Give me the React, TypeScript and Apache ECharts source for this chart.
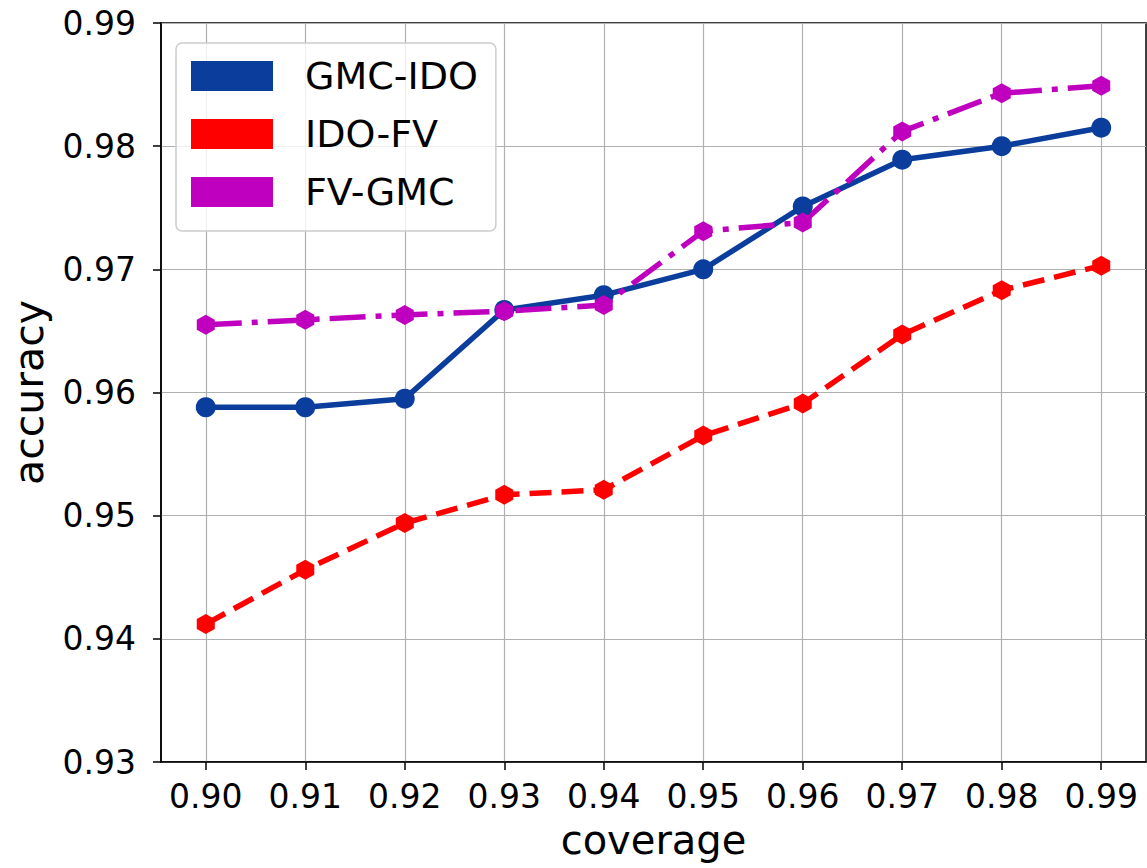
import React, { useEffect, useRef } from "react";
import * as echarts from "echarts";

const coverage = [0.9, 0.91, 0.92, 0.93, 0.94, 0.95, 0.96, 0.97, 0.98, 0.99];
const gmcIdo = [0.9588, 0.9588, 0.9595, 0.9667, 0.9679, 0.97, 0.9751, 0.9789, 0.98, 0.9815];
const idoFv = [0.9412, 0.9456, 0.9494, 0.9517, 0.9521, 0.9565, 0.9591, 0.9647, 0.9683, 0.9703];
const fvGmc = [0.9655, 0.9659, 0.9663, 0.9666, 0.9671, 0.9731, 0.9738, 0.9812, 0.9843, 0.9849];
const xTicks = [0.9, 0.91, 0.92, 0.93, 0.94, 0.95, 0.96, 0.97, 0.98, 0.99];

const HEX = "path://M0,-1 L0.866,-0.5 L0.866,0.5 L0,1 L-0.866,0.5 L-0.866,-0.5 Z";
const FONT = "DejaVu Sans";

export default function App() {
  const ref = useRef<HTMLDivElement>(null);
  useEffect(() => {
    if (!ref.current) return;
    const chart = echarts.init(ref.current, undefined, { renderer: "svg" });
    const pair = (arr: number[]) => coverage.map((c, i) => [c, arr[i]]);
    chart.setOption({
      animation: false,
      backgroundColor: "#ffffff",
      textStyle: { fontFamily: FONT },
      grid: {
        left: 156,
        right: 1,
        top: 23,
        bottom: 106,
        show: true,
        borderColor: "#000",
        borderWidth: 1.5,
        containLabel: false,
      },
      legend: {
        left: 176,
        top: 43,
        orient: "vertical",
        icon: "rect",
        itemWidth: 82,
        itemHeight: 30,
        itemGap: 20,
        padding: [14, 18, 20, 15],
        backgroundColor: "rgba(255,255,255,0.8)",
        borderColor: "#cccccc",
        borderWidth: 1.5,
        borderRadius: 6,
        textStyle: {
          fontFamily: FONT,
          fontSize: 38,
          color: "#000",
          padding: [0, 0, 0, 27],
        },
        data: ["GMC-IDO", "IDO-FV", "FV-GMC"],
      },
      xAxis: {
        type: "value",
        min: 0.8955,
        max: 0.9945,
        name: "coverage",
        nameLocation: "middle",
        nameGap: 58,
        nameTextStyle: { fontFamily: FONT, fontSize: 40, color: "#000" },
        axisLine: { show: true, lineStyle: { color: "#000", width: 1.5 } },
        axisTick: { show: true, length: 8, lineStyle: { color: "#000", width: 1.5 }, customValues: xTicks },
        axisLabel: {
          customValues: xTicks,
          fontFamily: FONT,
          fontSize: 33,
          color: "#000",
          margin: 18,
          formatter: (v: number) => v.toFixed(2),
        },
        splitLine: { show: true, lineStyle: { color: "#b0b0b0", width: 1.2 } },
      },
      yAxis: {
        type: "value",
        min: 0.93,
        max: 0.99,
        interval: 0.01,
        name: "accuracy",
        nameLocation: "middle",
        nameGap: 112,
        nameTextStyle: { fontFamily: FONT, fontSize: 41, color: "#000" },
        axisLine: { show: true, lineStyle: { color: "#000", width: 1.5 } },
        axisTick: { show: true, length: 8, lineStyle: { color: "#000", width: 1.5 } },
        axisLabel: {
          fontFamily: FONT,
          fontSize: 33,
          color: "#000",
          margin: 25,
          formatter: (v: number) => v.toFixed(2),
        },
        splitLine: { show: true, lineStyle: { color: "#b0b0b0", width: 1.2 } },
      },
      series: [
        {
          name: "GMC-IDO",
          type: "line",
          data: pair(gmcIdo),
          color: "#0b3d9c",
          symbol: "circle",
          symbolSize: 20,
          lineStyle: { width: 5.5, color: "#0b3d9c" },
          itemStyle: { color: "#0b3d9c" },
        },
        {
          name: "IDO-FV",
          type: "line",
          data: pair(idoFv),
          color: "#ff0000",
          symbol: HEX,
          symbolSize: [18, 20],
          lineStyle: { width: 5.5, color: "#ff0000", type: [22, 10] },
          itemStyle: { color: "#ff0000" },
        },
        {
          name: "FV-GMC",
          type: "line",
          data: pair(fvGmc),
          color: "#bf00bf",
          symbol: HEX,
          symbolSize: [18, 20],
          lineStyle: { width: 5.5, color: "#bf00bf", type: [36, 10, 6, 10] },
          itemStyle: { color: "#bf00bf" },
        },
      ],
    });
    return () => chart.dispose();
  }, []);
  return <div ref={ref} style={{ width: 1147, height: 868, position: "fixed", left: 0, top: 0 }} />;
}
